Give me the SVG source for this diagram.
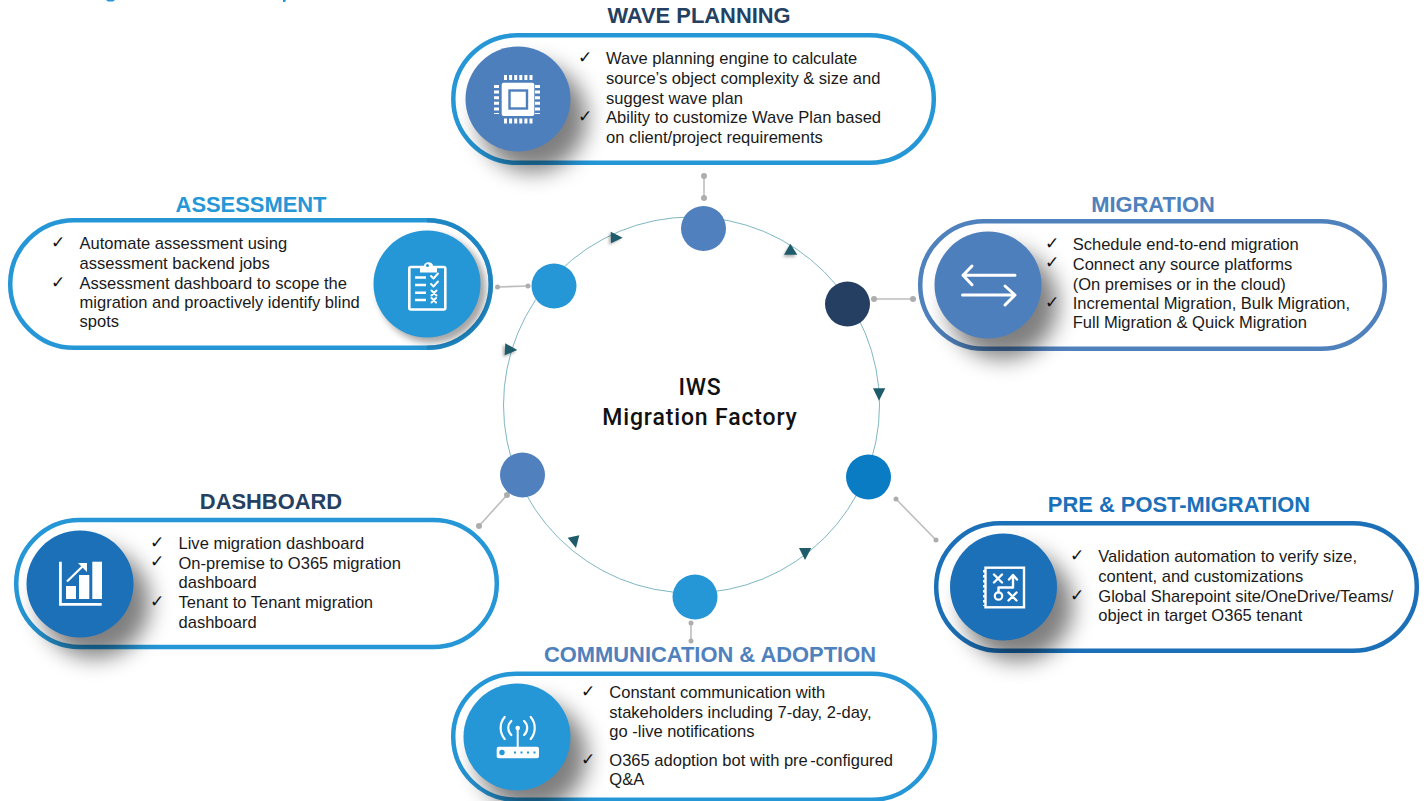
<svg xmlns="http://www.w3.org/2000/svg" width="1428" height="801" viewBox="0 0 1428 801">
<style>
.pill{fill:#fff;stroke-width:4.5}
.h{font-family:"Liberation Sans",Arial,sans-serif;font-weight:700;font-size:21.9px;text-anchor:middle}
.t{font-family:"Liberation Sans",Arial,sans-serif;font-size:16.55px;fill:#1a1a1a}
.c{font-family:"DejaVu Sans",sans-serif;font-size:17px;fill:#111}
.conn{stroke:#bdbdbd;stroke-width:1.6;fill:none}
.dot{fill:#adadad}
.tri{fill:#1f5c6b}
.ic{fill:none;stroke:#fff;stroke-linecap:round;stroke-linejoin:round}
.wf{fill:#fff}
.center{font-family:"Roboto",sans-serif;font-weight:500;font-size:23px;letter-spacing:0.85px;text-anchor:middle;fill:#111}
</style>
<defs>
<filter id="sh" x="-60%" y="-60%" width="220%" height="220%"><feGaussianBlur stdDeviation="11"/></filter>
<filter id="sh2" x="-50%" y="-50%" width="200%" height="200%"><feGaussianBlur stdDeviation="3.5"/></filter>
<filter id="sh3" x="-50%" y="-50%" width="200%" height="200%"><feGaussianBlur stdDeviation="1.5"/></filter>
</defs>
<rect width="1428" height="801" fill="#fff"/>
<path d="M106 0h9l-2 1.500h-5zM283 0h3l-1 2h-2z" fill="#2596d6"/>

<g id="cycle">
<circle cx="691.500" cy="405" r="188" fill="none" stroke="#5ea3b3" stroke-width="0.8"/>
</g>
<g id="connectors">
<path class="conn" d="M704 176V198M497 287L528 286M874 299H913M896 499L936 540M691 623V641M507 495L479 526"/>
<g class="dot">
<circle cx="704" cy="176" r="3"/><circle cx="704" cy="198" r="3"/>
<circle cx="497.500" cy="287" r="2.500"/><circle cx="528" cy="286" r="2.500"/>
<circle cx="874" cy="299" r="3"/><circle cx="913" cy="299" r="3"/>
<circle cx="896" cy="499" r="2.500"/><circle cx="936" cy="540" r="2.500"/>
<circle cx="691" cy="623" r="2.500"/><circle cx="691" cy="641" r="2.500"/>
<circle cx="507" cy="495" r="3"/><circle cx="479" cy="526" r="3"/>
</g>
<g fill="#000" opacity="0.3" filter="url(#sh3)">
<path d="M609 233L621 239L609 245zM789 246L796 257L783 257zM503 345L516 352L503 357z"/>
</g>
<path class="tri" d="M610.700 231.700L622.700 237.700L611 243.300z"/>
<path class="tri" d="M790.300 243.700L797.300 254.700L784 254.700z"/>
<path class="tri" d="M873 388.300L885.300 388.300L879 400.700z"/>
<path class="tri" d="M799 548L811.300 548L805 560z"/>
<path class="tri" d="M579.300 535.300L567.700 537.700L576 548z"/>
<path class="tri" d="M505.300 343.300L517.300 350L504.700 355.300z"/>
</g>
<g id="hubs">
<circle cx="703.500" cy="228.500" r="22.500" fill="#5080bd"/>
<circle cx="554" cy="286" r="22.500" fill="#2596d6"/>
<circle cx="847.500" cy="304" r="22.500" fill="#253f63"/>
<circle cx="868.500" cy="477" r="22.500" fill="#0a7cc4"/>
<circle cx="695" cy="597" r="22.500" fill="#2596d6"/>
<circle cx="522.500" cy="475" r="22.500" fill="#5080bd"/>
</g>
<g id="center-label">
<text class="center" x="700" y="395">IWS</text>
<text class="center" x="700" y="425">Migration Factory</text>
</g>

<g id="wave-planning">
<text class="h" x="699" y="23" fill="#254061">WAVE PLANNING</text>
<rect class="pill" x="453.300" y="35.300" width="480.500" height="127.500" rx="63.700" stroke="#2596d6"/>
<ellipse cx="533" cy="118" rx="54" ry="54" fill="#000" opacity="0.5" filter="url(#sh)"/>
<circle cx="518" cy="99" r="52.500" fill="#4e7fbd"/>
<rect class="wf" x="501.700" y="82.700" width="32.600" height="33.300" rx="2"/>
<rect x="509.500" y="90.500" width="17.500" height="18" fill="#fff" stroke="#4e7fbd" stroke-width="2.400"/>
<path d="M504 77.500H533M504 121H533" stroke="#fff" stroke-width="5" stroke-dasharray="3 2.100"/>
<path d="M496.500 85V114M537.500 85V114" stroke="#fff" stroke-width="5" stroke-dasharray="3 2.600"/>
<text class="c" x="578" y="63">✓</text><text class="c" x="578" y="122">✓</text>
<text class="t" x="606" y="64">Wave planning engine to calculate</text>
<text class="t" x="606" y="83.500">source’s object complexity &amp; size and</text>
<text class="t" x="606" y="103.500">suggest wave plan</text>
<text class="t" x="606" y="122.800">Ability to customize Wave Plan based</text>
<text class="t" x="606" y="142.700">on client/project requirements</text>
</g>

<g id="assessment">
<text class="h" x="251" y="211.500" fill="#2597d7">ASSESSMENT</text>
<rect class="pill" x="10.200" y="220.200" width="480.600" height="127.600" rx="63.800" stroke="#2596d6"/>
<path d="M427 220.200A63.800 63.800 0 0 1 427 347.800" fill="none" stroke="#1a7ab5" stroke-width="4.500" opacity="0.55"/>
<circle cx="432" cy="289" r="54" fill="#000" opacity="0.35" filter="url(#sh2)"/>
<circle cx="427" cy="284" r="53.500" fill="#2596d6"/>
<rect x="409.300" y="267" width="36" height="42.500" rx="1.500" fill="none" stroke="#fff" stroke-width="2.600"/>
<path class="wf" d="M420 272.500v-6.500h4c0-5 9-5 9 0h4v6.500z"/>
<circle cx="427.500" cy="265.500" r="1.500" fill="#2596d6"/>
<path d="M415 277.500h11M415 285h11M415 292.700h11M415 300h11" stroke="#fff" stroke-width="2.400"/>
<path class="ic" stroke-width="2" d="M431 276l2.500 2.500l4.500-5M431 284l2.500 2.500l4.500-5M431.500 290.500l5 5M436.500 290.500l-5 5M431.500 298l4.500 4.500M436 298l-4.500 4.500"/>
<text class="c" x="51" y="248">✓</text><text class="c" x="51" y="288">✓</text>
<text class="t" x="79.500" y="248.700">Automate assessment using</text>
<text class="t" x="79.500" y="268.700">assessment backend jobs</text>
<text class="t" x="79.500" y="288.700">Assessment dashboard to scope the</text>
<text class="t" x="79.500" y="307.800">migration and proactively identify blind</text>
<text class="t" x="79.500" y="327.300">spots</text>
</g>

<g id="migration">
<text class="h" x="1153" y="211.500" fill="#4f81bd">MIGRATION</text>
<rect class="pill" x="920.200" y="221.200" width="464.600" height="127.600" rx="63.800" stroke="#4f81bd"/>
<ellipse cx="1003" cy="304" rx="55" ry="55" fill="#000" opacity="0.5" filter="url(#sh)"/>
<circle cx="988" cy="285" r="53.500" fill="#4e7fbd"/>
<path class="ic" stroke-width="3" d="M1015 275.300H963M972 266L963 275.300L972 284.700M962.500 295H1015M1005 286L1015 295L1005 305"/>
<text class="c" x="1045" y="249">✓</text><text class="c" x="1045" y="268">✓</text><text class="c" x="1045" y="308">✓</text>
<text class="t" x="1072.700" y="249.700">Schedule end-to-end migration</text>
<text class="t" x="1072.700" y="269.700">Connect any source platforms</text>
<text class="t" x="1072.700" y="289.700">(On premises or in the cloud)</text>
<text class="t" x="1072.700" y="309">Incremental Migration, Bulk Migration,</text>
<text class="t" x="1072.700" y="328.300">Full Migration &amp; Quick Migration</text>
</g>

<g id="dashboard">
<text class="h" x="271" y="508.500" fill="#254061">DASHBOARD</text>
<rect class="pill" x="16.200" y="520" width="480.600" height="127" rx="63.500" stroke="#2596d6"/>
<ellipse cx="95" cy="603" rx="55" ry="55" fill="#000" opacity="0.5" filter="url(#sh)"/>
<circle cx="80" cy="584" r="53.500" fill="#1b70b8"/>
<path class="ic" stroke-width="2.800" style="stroke-linecap:butt;stroke-linejoin:miter" d="M60.400 561.700V604.300H101.700"/>
<rect class="wf" x="66" y="586" width="10" height="13"/>
<rect class="wf" x="79" y="575" width="10.300" height="24"/>
<rect class="wf" x="92.300" y="561.700" width="9.700" height="37.300"/>
<path class="ic" stroke-width="2.200" style="stroke-linecap:butt" d="M67 581.500L85 564"/>
<path class="wf" d="M78 563h9v9z"/>
<text class="c" x="150" y="548">✓</text><text class="c" x="150" y="567">✓</text><text class="c" x="150" y="607">✓</text>
<text class="t" x="178.500" y="549">Live migration dashboard</text>
<text class="t" x="178.500" y="569">On-premise to O365 migration</text>
<text class="t" x="178.500" y="587.700">dashboard</text>
<text class="t" x="178.500" y="607.700">Tenant to Tenant migration</text>
<text class="t" x="178.500" y="627.700">dashboard</text>
</g>

<g id="pre-post-migration">
<text class="h" x="1179" y="511.500" fill="#1b70ba">PRE &amp; POST-MIGRATION</text>
<rect class="pill" x="936.200" y="523.200" width="480.600" height="127.600" rx="63.800" stroke="#1b70b8"/>
<ellipse cx="1018" cy="606" rx="55" ry="55" fill="#000" opacity="0.5" filter="url(#sh)"/>
<circle cx="1003.500" cy="587" r="53.500" fill="#1b70b8"/>
<rect x="985.500" y="567.700" width="38.500" height="39.600" fill="none" stroke="#fff" stroke-width="2.400"/>
<path d="M984.500 570V606" stroke="#fff" stroke-width="3" stroke-dasharray="2.500 2.500"/>
<path class="ic" stroke-width="2.400" d="M994 574.500l8 8M1002 574.500l-8 8M1008.500 592.500l8 8M1016.500 592.500l-8 8M998.500 592V587.500H1013V575.500M1009 579.500L1013 575L1017 579.500"/>
<circle cx="998.500" cy="596" r="3.700" fill="none" stroke="#fff" stroke-width="2.200"/>
<text class="c" x="1070" y="561">✓</text><text class="c" x="1070" y="601">✓</text>
<text class="t" x="1098.300" y="562.300">Validation automation to verify size,</text>
<text class="t" x="1098.300" y="581.700">content, and customizations</text>
<text class="t" x="1098.300" y="602">Global Sharepoint site/OneDrive/Teams/</text>
<text class="t" x="1098.300" y="621">object in target O365 tenant</text>
</g>

<g id="communication-adoption">
<text class="h" x="710" y="661.500" fill="#4f81bd">COMMUNICATION &amp; ADOPTION</text>
<rect class="pill" x="453.200" y="673.700" width="481.600" height="126" rx="63" stroke="#2596d6"/>
<ellipse cx="532" cy="756" rx="55" ry="55" fill="#000" opacity="0.5" filter="url(#sh)"/>
<circle cx="517" cy="737" r="53.500" fill="#2596d6"/>
<rect class="wf" x="496.700" y="746.700" width="42.300" height="11.600" rx="2"/>
<circle cx="502" cy="752.500" r="2.700" fill="#2596d6"/>
<path d="M514 752.500H536" stroke="#2596d6" stroke-width="2" stroke-dasharray="2 4.500"/>
<path class="ic" stroke-width="2" d="M517.700 728V747"/>
<circle cx="517.700" cy="728" r="2.300" class="wf"/>
<path class="ic" stroke-width="2.200" d="M511.300 735A9.500 9.500 0 0 1 511.300 721M524.100 721A9.500 9.500 0 0 1 524.100 735M504.700 739A17 17 0 0 1 504.700 717M530.700 717A17 17 0 0 1 530.700 739"/>
<text class="c" x="581" y="697">✓</text><text class="c" x="581" y="765">✓</text>
<text class="t" x="609.300" y="698">Constant communication with</text>
<text class="t" x="609.300" y="718">stakeholders including 7-day, 2-day,</text>
<text class="t" x="609.300" y="736.700">go -live notifications</text>
<text class="t" x="609.300" y="765.700">O365 adoption bot with pre<tspan dx="2.500">-configured</tspan></text>
<text class="t" x="609.300" y="785.300">Q&amp;A</text>
</g>
</svg>
